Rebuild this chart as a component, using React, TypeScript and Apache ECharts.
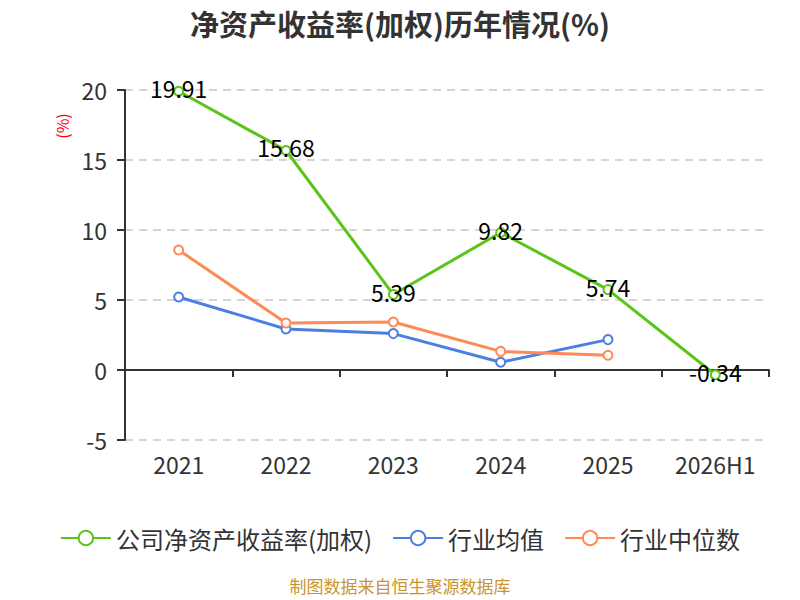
import React, { useEffect, useRef } from 'react';
import * as echarts from 'echarts';

const categories = ['2021', '2022', '2023', '2024', '2025', '2026H1'];
const companyRoe = [19.91, 15.68, 5.39, 9.82, 5.74, -0.34];
const industryAvg = [5.21, 2.93, 2.6, 0.55, 2.17, null];
const industryMedian = [8.57, 3.36, 3.43, 1.33, 1.05, null];
const seriesNames = ['公司净资产收益率(加权)', '行业均值', '行业中位数'];

const FONT = '"Noto Sans CJK SC", "Noto Sans", sans-serif';

export default function App() {
  const chartRef = useRef<HTMLDivElement>(null);

  useEffect(() => {
    if (!chartRef.current) return;
    document.body.style.margin = '0';
    const chart = echarts.init(chartRef.current, null, { renderer: 'svg' });

    const lineSeries = (name: string, data: (number | null)[], color: string, withLabel: boolean) => ({
      name,
      type: 'line' as const,
      data,
      xAxisIndex: 0,
      symbol: 'emptyCircle',
      symbolSize: 9,
      lineStyle: { color, width: 3 },
      itemStyle: { color, borderWidth: 2 },
      label: withLabel
        ? { show: true, position: 'inside', offset: [0, -3], color: '#000', fontSize: 23, fontFamily: FONT }
        : { show: false },
      z: withLabel ? 3 : 2
    });

    const option: echarts.EChartsOption = {
      animation: false,
      textStyle: { fontFamily: FONT },
      title: {
        text: '净资产收益率(加权)历年情况(%)',
        left: 'center',
        top: 3,
        textStyle: { fontSize: 29, fontWeight: 'bold', color: '#333', fontFamily: FONT }
      },
      legend: {
        data: seriesNames,
        top: 521,
        left: 'center',
        itemWidth: 50,
        itemHeight: 18,
        itemGap: 20,
        textStyle: { fontSize: 24, color: '#333', fontFamily: FONT }
      },
      graphic: [
        {
          type: 'text',
          left: 'center',
          top: 577,
          style: { text: '制图数据来自恒生聚源数据库', fill: '#c8962e', fontSize: 17, fontFamily: FONT }
        },
        {
          type: 'text',
          x: 62,
          y: 126,
          rotation: Math.PI / 2,
          style: {
            text: '(%)',
            fill: '#ff0000',
            fontSize: 16,
            fontFamily: FONT,
            align: 'center',
            verticalAlign: 'middle'
          }
        }
      ],
      grid: { left: 125, right: 31, top: 90, bottom: 160 },
      xAxis: [
        {
          type: 'category',
          data: categories,
          boundaryGap: true,
          axisLine: { onZero: true, lineStyle: { color: '#333', width: 2 } },
          axisTick: { show: true, length: 7, lineStyle: { color: '#333', width: 2 } },
          axisLabel: { show: false },
          splitLine: { show: false }
        },
        {
          type: 'category',
          data: categories,
          position: 'bottom',
          axisLine: { show: false, onZero: false },
          axisTick: { show: false },
          axisLabel: { fontSize: 23, color: '#333', margin: 12, fontFamily: FONT },
          splitLine: { show: false }
        }
      ],
      yAxis: {
        type: 'value',
        min: -5,
        max: 20,
        interval: 5,
        axisLine: { show: true, lineStyle: { color: '#333', width: 2 } },
        axisTick: { show: true, length: 8, lineStyle: { color: '#333', width: 2 } },
        axisLabel: { fontSize: 23, color: '#333', margin: 18, fontFamily: FONT },
        splitLine: { show: true, lineStyle: { color: '#c8c8c8', type: [8, 6], width: 1.5 } }
      },
      series: [
        lineSeries(seriesNames[0], companyRoe, '#5bc41b', true),
        lineSeries(seriesNames[1], industryAvg, '#4b7fe3', false),
        lineSeries(seriesNames[2], industryMedian, '#ff8a55', false)
      ]
    };

    chart.setOption(option);
    return () => chart.dispose();
  }, []);

  return <div ref={chartRef} style={{ width: 800, height: 600 }} />;
}
